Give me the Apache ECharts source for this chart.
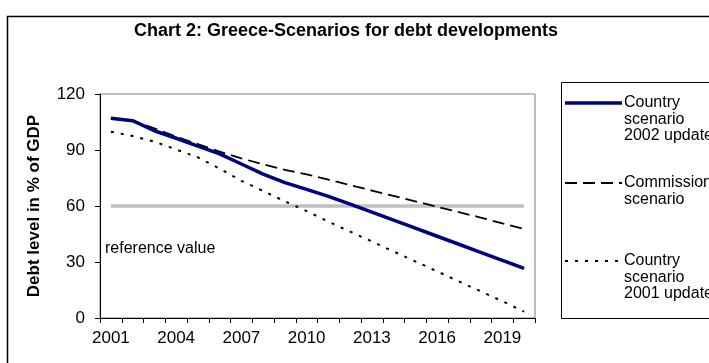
<!DOCTYPE html>
<html>
<head>
<meta charset="utf-8">
<script src="https://cdn.jsdelivr.net/npm/echarts@6/dist/echarts.min.js"></script>
<style>
html,body{margin:0;padding:0;background:#fff;}
#chart{width:709px;height:363px;}
</style>
</head>
<body>
<div id="chart"></div>
<script>
const years = ['2001','2002','2003','2004','2005','2006','2007','2008','2009','2010','2011','2012','2013','2014','2015','2016','2017','2018','2019','2020'];
const country2002 = [107.0,105.7,100.3,96.3,92.1,87.9,82.5,77.1,72.5,68.9,65.2,61.0,56.7,52.4,48.1,43.8,39.5,35.2,30.9,26.6];
const commission = [107.0,105.7,101.6,97.1,93.2,89.1,85.5,82.3,79.3,77.0,74.1,71.2,68.3,65.4,62.5,59.6,56.7,53.8,50.7,47.7];
const country2001 = [99.8,97.5,94.5,90.3,86.1,80.0,73.5,68.0,62.5,57.3,51.6,46.3,41.0,35.6,30.3,25.0,19.6,14.3,9.0,3.4];
const referenceValue = [60,60,60,60,60,60,60,60,60,60,60,60,60,60,60,60,60,60,60,60];
const yTicks = [0,30,60,90,120];
const titleText = 'Chart 2: Greece-Scenarios for debt developments';
const yAxisTitle = 'Debt level in % of GDP';
const refLabel = 'reference value';
const legendLabels = [['Country','scenario','2002 update'],['Commission','scenario'],['Country','scenario','2001 update']];

const FONT = 'Liberation Sans, Arial, sans-serif';
const chart = echarts.init(document.getElementById('chart'), null, {renderer:'canvas'});

const lineStyles = [
  {color:'#000080', width:3.5, type:'solid'},
  {color:'#000000', width:1.8, type:[12,6]},
  {color:'#000000', width:2, type:[3,7]}
];
const legendY = [103, 183, 261];
const graphics = [
  {type:'rect', shape:{x:7.5, y:16.5, width:800, height:500}, style:{fill:'none', stroke:'#000', lineWidth:1.5}, silent:true},
  {type:'rect', shape:{x:561.5, y:82.5, width:300, height:236}, style:{fill:'none', stroke:'#000', lineWidth:1}, silent:true},
  {type:'text', x:346, y:31, style:{text:titleText, font:'bold 18px ' + FONT, fill:'#000', textAlign:'center', textVerticalAlign:'middle'}},
  {type:'text', x:105, y:249, style:{text:refLabel, font:'16px ' + FONT, fill:'#000', textAlign:'left', textVerticalAlign:'middle'}}
];
legendLabels.forEach(function(lines, i){
  graphics.push({type:'line', shape:{x1:565, y1:legendY[i], x2:622, y2:legendY[i]}, style:{stroke:lineStyles[i].color, lineWidth:lineStyles[i].width, lineDash: Array.isArray(lineStyles[i].type) ? lineStyles[i].type : null}});
  lines.forEach(function(t, j){
    graphics.push({type:'text', x:624, y:legendY[i] + j*16.5, style:{text:t, font:'16px ' + FONT, fill:'#000', textAlign:'left', textVerticalAlign:'middle'}});
  });
});

const option = {
  animation:false,
  backgroundColor:'#fff',
  grid:{left:100, top:94, width:435, height:224, show:true, borderColor:'#808080', borderWidth:1, backgroundColor:'transparent'},
  xAxis:{
    type:'category', data:years, boundaryGap:true,
    axisLine:{lineStyle:{color:'#000', width:1}},
    axisTick:{show:true, interval:0, length:5, lineStyle:{color:'#000'}},
    axisLabel:{interval:2, color:'#000', fontSize:17, fontFamily:FONT, margin:12},
    splitLine:{show:false}
  },
  yAxis:{
    type:'value', min:yTicks[0], max:yTicks[yTicks.length-1], interval:30,
    name:yAxisTitle, nameLocation:'middle', nameGap:57, nameRotate:90,
    nameTextStyle:{fontSize:17, fontWeight:'bold', fontFamily:FONT, color:'#000'},
    axisLine:{show:true, lineStyle:{color:'#000', width:1}},
    axisTick:{show:true, length:5, lineStyle:{color:'#000'}},
    axisLabel:{color:'#000', fontSize:17, fontFamily:FONT, margin:15},
    splitLine:{show:false}
  },
  series:[
    {name:'reference value', type:'line', data:referenceValue, symbol:'none', lineStyle:{color:'#c0c0c0', width:3.5}, z:1},
    {name:'Country scenario 2001 update', type:'line', data:country2001, symbol:'none', lineStyle:lineStyles[2], z:2},
    {name:'Commission scenario', type:'line', data:commission, symbol:'none', lineStyle:lineStyles[1], z:3},
    {name:'Country scenario 2002 update', type:'line', data:country2002, symbol:'none', lineStyle:lineStyles[0], z:4}
  ],
  graphic:graphics
};
chart.setOption(option);
</script>
</body>
</html>
